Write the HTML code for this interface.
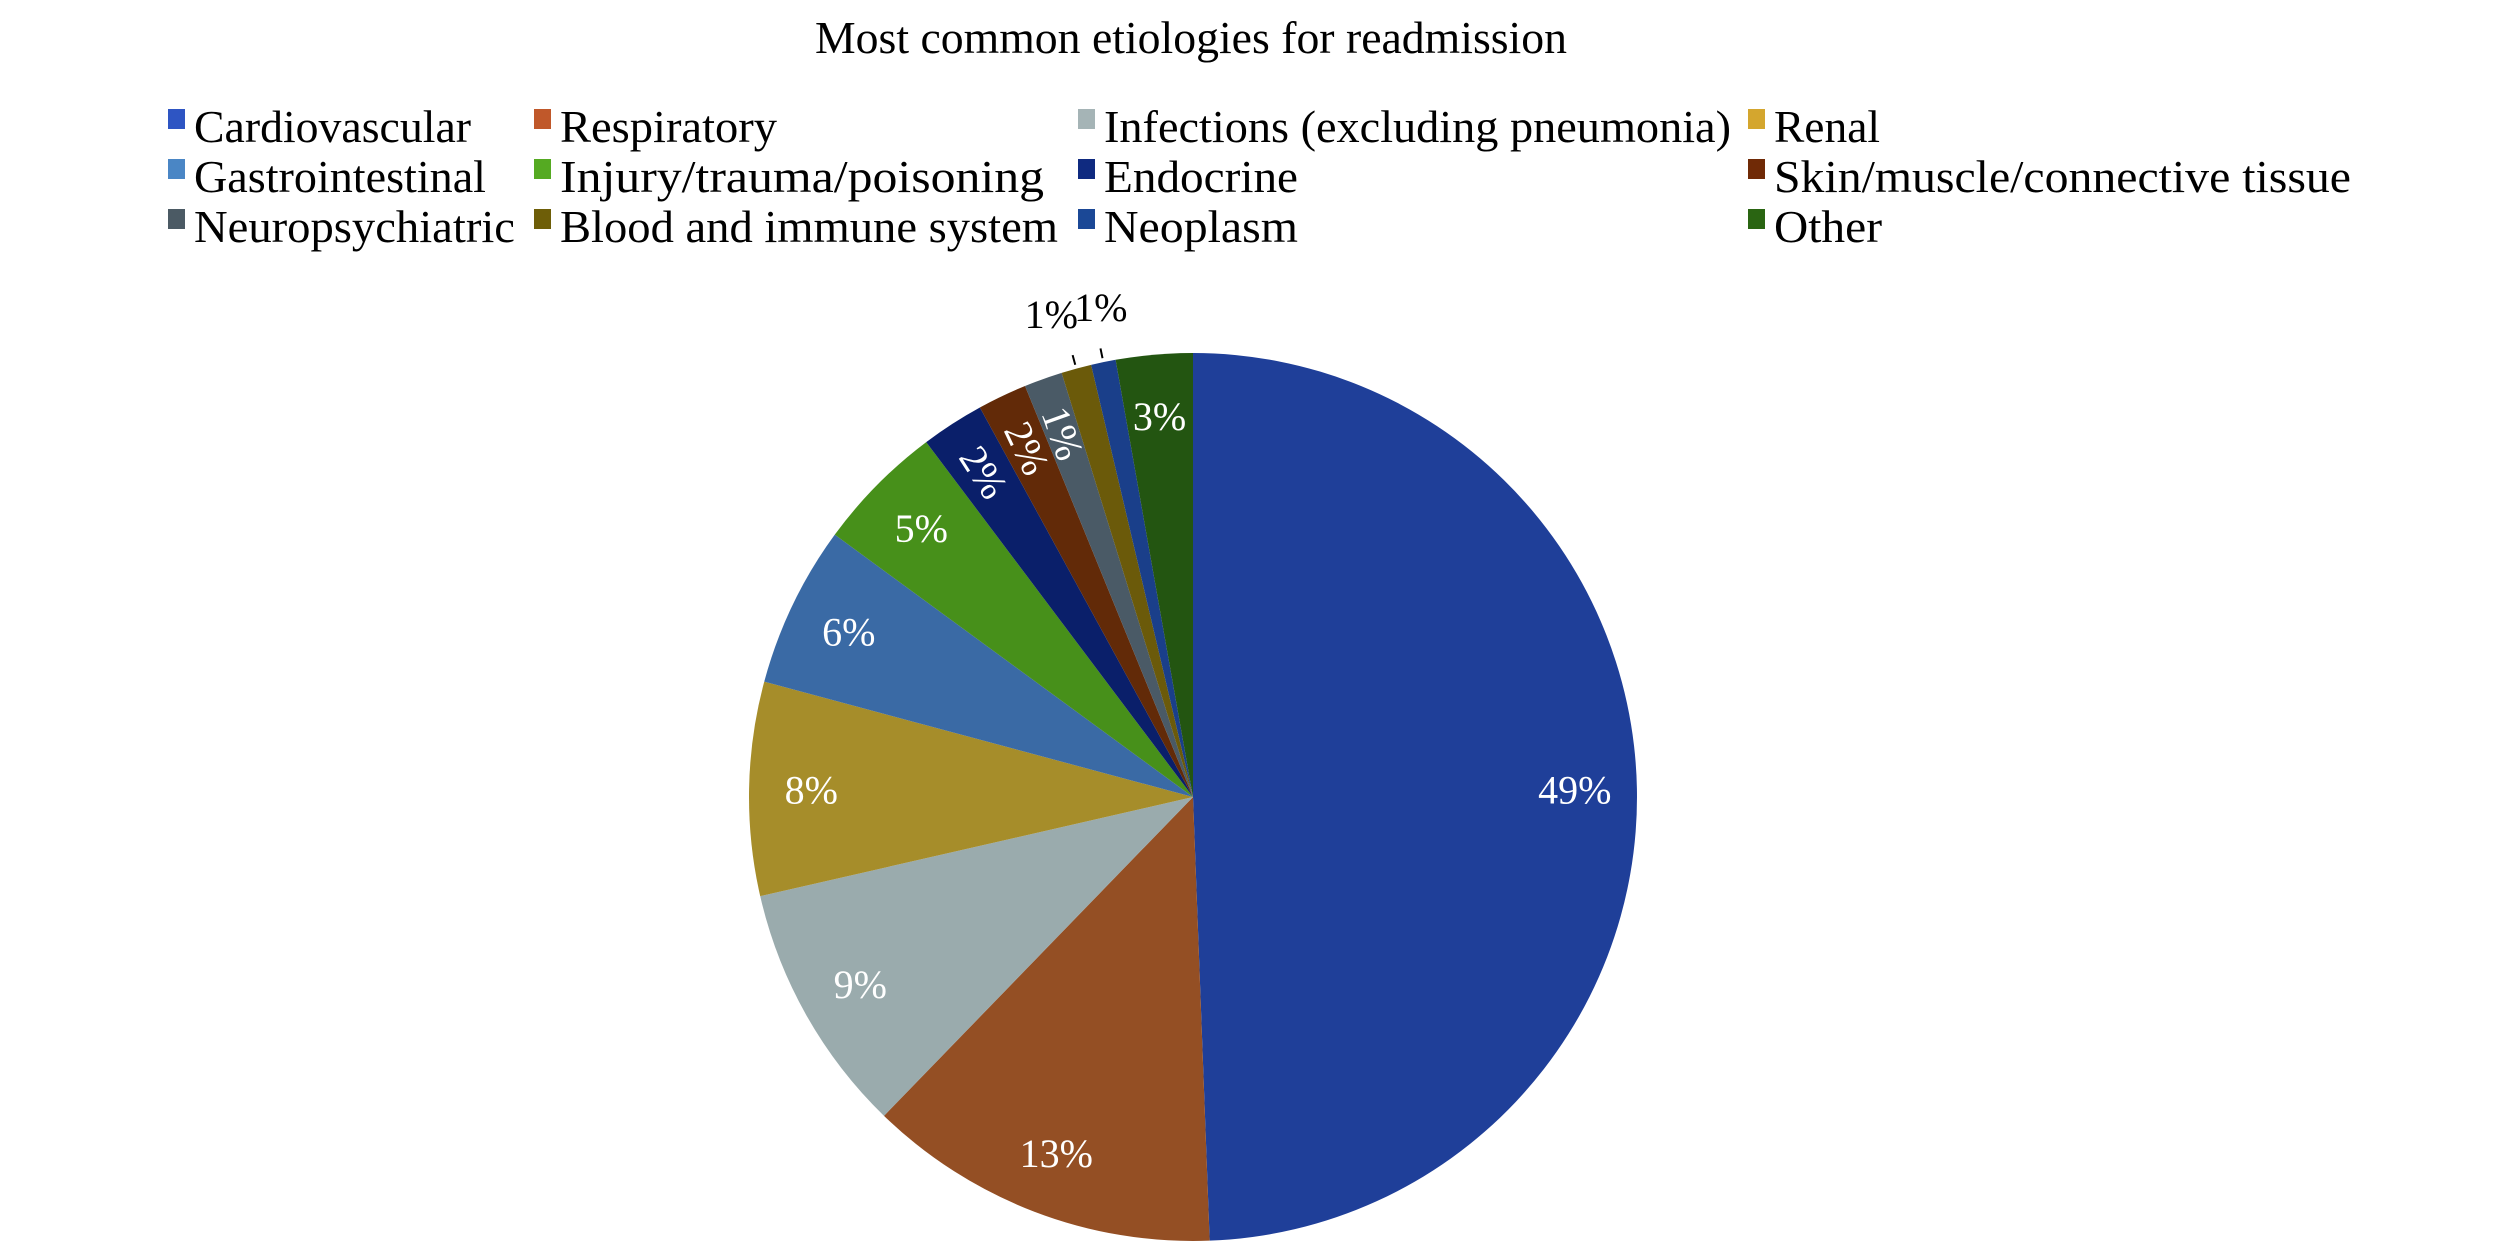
<!DOCTYPE html>
<html><head><meta charset="utf-8"><style>
html,body{margin:0;padding:0;background:#fff;}
svg{display:block;font-family:"Liberation Serif",serif;}
</style></head><body>
<svg id="chart" width="2520" height="1247" viewBox="0 0 2520 1247" xmlns="http://www.w3.org/2000/svg">
<text x="1191" y="53" font-size="46" text-anchor="middle" textLength="752" lengthAdjust="spacingAndGlyphs" fill="#000">Most common etiologies for readmission</text>
<g id="legend"></g>
<g id="slices"></g>
<g id="labels"></g>
</svg>
<script>
const categories = ["Cardiovascular","Respiratory","Infections (excluding pneumonia)","Renal","Gastrointestinal","Injury/trauma/poisoning","Endocrine","Skin/muscle/connective tissue","Neuropsychiatric","Blood and immune system","Neoplasm","Other"];
const values = [49.6,12.9,9.2,7.8,5.9,4.7,2.3,1.8,1.4,1.1,0.9,2.8];
const valueLabels = ["49%","13%","9%","8%","6%","5%","2%","2%","1%","1%","1%","3%"];
const sliceColors = ["#1f3f99","#944f24","#9aabad","#a68d2a","#3a6aa5","#47901a","#0a1f6a","#622a08","#4a5a66","#6b5a0a","#1a3f8a","#235511"];
const legendColors = ["#2e55c3","#c0582a","#a5b4b6","#d4a62e","#4a86c5","#55aa22","#0f2a80","#702a06","#4b5a64","#6e5e08","#1b4896","#2a6512"];
const legendWidths = [277,217,627,106,292,484,194,577,321,498,194,108];

const NS="http://www.w3.org/2000/svg";
const cx=1193, cy=797, R=444;
const colX=[168,534,1078,1748], rowY=[142,192,242];
const lg=document.getElementById('legend');
categories.forEach((c,i)=>{
  const col=i%4,row=Math.floor(i/4);
  const r=document.createElementNS(NS,'rect');
  
  
  r.setAttribute('x',colX[col]);r.setAttribute('y',rowY[row]-33);
  r.setAttribute('width',17);r.setAttribute('height',20);
  r.setAttribute('fill',legendColors[i]);
  lg.appendChild(r);
  const t=document.createElementNS(NS,'text');
  
  
  t.setAttribute('x',colX[col]+26);t.setAttribute('y',rowY[row]);
  t.setAttribute('font-size','46');
  t.setAttribute('textLength',legendWidths[i]);
  t.setAttribute('lengthAdjust','spacingAndGlyphs');
  t.textContent=c;
  lg.appendChild(t);
});
const total=values.reduce((a,b)=>a+b,0);
function pt(a,r){return [cx+r*Math.sin(a),cy-r*Math.cos(a)];}
let acc=0;
const sg=document.getElementById('slices'), lb=document.getElementById('labels');
values.forEach((v,i)=>{
  const a0=acc/total*2*Math.PI; acc+=v; const a1=acc/total*2*Math.PI;
  const p0=pt(a0,R),p1=pt(a1,R);
  const large=(a1-a0)>Math.PI?1:0;
  const p=document.createElementNS(NS,'path');
  
  
  p.setAttribute('d',`M${cx},${cy} L${p0[0]},${p0[1]} A${R},${R} 0 ${large} 1 ${p1[0]},${p1[1]} Z`);
  p.setAttribute('fill',sliceColors[i]);
  sg.appendChild(p);
  const am=(a0+a1)/2;
  const t=document.createElementNS(NS,'text');
  
  
  t.setAttribute('font-size','40');
  t.setAttribute('text-anchor','middle');
  t.textContent=valueLabels[i];
  const outside = (i===9||i===10);
  if(outside){
    const q0=pt(am,R+4),q1=pt(am,R+14),q2=pt(am,R+42);
    const l=document.createElementNS(NS,'line');
    
    
    l.setAttribute('x1',q0[0]);l.setAttribute('y1',q0[1]);
    l.setAttribute('x2',q1[0]);l.setAttribute('y2',q1[1]);
    l.setAttribute('stroke','#000');l.setAttribute('stroke-width','2');
    lb.appendChild(l);
    const dx = i===9 ? -14 : 6;
    t.setAttribute('x',q2[0]+dx);t.setAttribute('y',q2[1]);
    t.setAttribute('fill','#000');
  } else {
    const rot = (i>=6&&i<=8);
    const q=pt(am, rot?0.87*R:0.86*R);
    t.setAttribute('fill','#fff');
    t.setAttribute('dominant-baseline','central');
    t.setAttribute('x',q[0]);t.setAttribute('y',q[1]);
    if(rot){t.setAttribute('transform',`rotate(${am*180/Math.PI-270} ${q[0]} ${q[1]})`);}
  }
  lb.appendChild(t);
});
</script>
</body></html>
